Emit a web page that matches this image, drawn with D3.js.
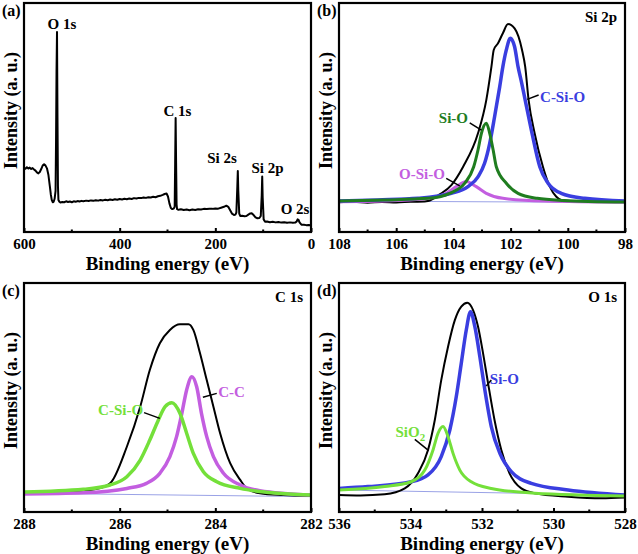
<!DOCTYPE html>
<html><head><meta charset="utf-8">
<script src="https://cdn.jsdelivr.net/npm/d3@7"></script>
<style>
html,body{margin:0;padding:0;background:#fff;}
text{font-family:"Liberation Serif","Times New Roman",serif;font-weight:bold;}
</style></head>
<body>
<svg id="chart" width="638" height="554"></svg>
<script>
// ---------------- DATA ----------------
// (a) survey spectrum [binding energy eV, intensity a.u.]
const surveyData = [
[600,28.0],[597,27.6],[594,28.3],[591,27.7],[588,28.1],[585,27.5],[582,27.9],[579,27.3],[576,26.8],[573,26.0],[570,25.6],[567,26.2],[564,27.5],[561,29.0],[558,29.6],[555,29.0],[552,27.8],[549,25.0],[546,20.0],[544,16.5],[542,14.0],[540,13.0],[538,13.2],[536,14.5],[534,18],[533,40],[532,70],[531,87.3],[530,50],[529,20],[528,14],[526,13.2],[524,12.9],[520,13.1],[516,13.0],[512,13.4],[508,13.1],[504,13.3],[500,13.0],[496,13.4],[492,13.2],[488,13.5],[484,13.3],[480,13.6],[476,13.4],[470,13.7],[465,13.5],[460,13.8],[455,13.6],[450,13.9],[445,13.7],[440,14.0],[435,13.8],[430,14.1],[425,13.9],[420,14.2],[415,14.0],[410,14.3],[405,14.1],[400,14.4],[395,14.2],[390,14.5],[385,14.3],[380,14.6],[375,14.4],[370,14.8],[365,14.6],[360,14.9],[355,14.8],[350,15.1],[345,14.9],[340,15.2],[335,15.1],[330,15.4],[325,15.2],[320,15.6],[315,15.8],[310,16.2],[306,16.6],[302,16.8],[299,15.5],[296,12.5],[293,10.5],[290,10.0],[287,10.2],[285,11],[284,30],[283,49.8],[282,30],[281,12],[280,10],[277,9.7],[272,9.9],[266,9.6],[260,9.8],[254,9.5],[248,9.8],[242,9.6],[236,9.9],[230,9.8],[224,10.1],[218,10.0],[212,10.2],[206,10.1],[200,10.3],[194,10.2],[188,10.6],[182,11.0],[177,11.5],[173,11.0],[169,9.5],[165,8.0],[161,7.4],[158,7.6],[156,8.5],[154,20],[153,26.6],[152,18],[150,8],[148,7.0],[144,7.1],[139,6.9],[135,7.0],[131,7.6],[127,8.1],[124,8.2],[120,7.4],[116,6.4],[112,6.0],[108,6.1],[105,7],[103,16],[102,24.2],[101,15],[99,5.5],[96,4.5],[92,4.6],[86,4.3],[80,4.5],[74,4.2],[68,4.4],[62,4.1],[56,4.3],[50,4.0],[44,4.2],[38,4.0],[33,4.1],[30,4.6],[28,5.5],[26,5.3],[24,4.2],[20,3.2],[15,3.2],[10,3.0],[5,3.1],[0,3.0]
];
// (b) Si 2p
const si2pEnvelope = [[108,13.0],[107.5,13.2],[107,12.8],[106.5,13.1],[106,12.9],[105.5,13.2],[105,13.3],[104.89,13.5],[104.48,16.4],[104.07,20.5],[103.66,28.5],[103.14,43.1],[102.85,57.6],[102.67,72.2],[102.59,79.5],[102.44,82.4],[102.27,86.8],[102.09,90.8],[101.86,88.9],[101.6,79.5],[101.49,72.2],[101.37,57.6],[101.16,43.1],[100.87,28.5],[100.63,19.8],[100.4,15.4],[100.23,14],[99.5,13.3],[98.8,13.2],[98,13.1]];
const si2pCSiO = [[108,13.5],[106.64,14],[105.24,14.7],[104.07,16.9],[103.49,19.8],[103.14,24.1],[102.91,30],[102.73,38.7],[102.56,50.3],[102.38,63.5],[102.27,72.2],[102.15,79.5],[102.01,84.6],[101.86,80.9],[101.74,72.2],[101.61,64.9],[101.49,57.6],[101.25,43.1],[100.98,28.5],[100.69,21.3],[100.23,16.9],[99.41,14.7],[98,13.5]];
const si2pSiO = [[108,13.5],[106.4,14],[104.89,14.7],[104.13,16.9],[103.6,21.3],[103.29,28.5],[103.14,35.8],[103.02,43.1],[102.85,47.5],[102.73,43.1],[102.61,35.8],[102.5,28.5],[102.15,21.3],[101.74,16.9],[101.07,14.7],[100.2,13.8],[98,13.1]];
const si2pOSiO = [[108,13.2],[106.4,13.5],[104.89,14.7],[104.25,16.9],[103.9,19.8],[103.55,22],[103.2,19.8],[102.85,16.9],[102.27,14.7],[100.81,13.5],[98,13.0]];
const si2pBaseline = [[108,13.5],[98,12.9]];
// (c) C 1s
const c1sEnvelope = [[288,7.9],[287.5,8.1],[287,8.6],[286.5,10],[286.2,12.5],[285.85,28.5],[285.57,46],[285.37,62],[285.16,73.7],[284.95,79.5],[284.74,82],[284.56,82],[284.46,79.5],[284.32,69.3],[284.18,57.6],[284.04,46],[283.9,34.4],[283.69,21.3],[283.48,14],[283.34,10.3],[283.07,8.2],[282.58,7.4],[282,7]];
const c1sCC = [[288,7.9],[286.76,8.4],[285.85,10.3],[285.44,12.5],[285.16,16.9],[284.95,24.2],[284.81,32.9],[284.7,43.1],[284.6,53.3],[284.49,59.1],[284.39,54.7],[284.29,43.1],[284.18,32.9],[284.04,24.2],[283.83,16.9],[283.48,11.8],[283.07,9.3],[282,7.4]];
const c1sCSiO = [[288,8.7],[286.76,9.9],[286.2,11.8],[285.85,15.4],[285.57,22.7],[285.37,31.4],[285.19,40.2],[285.05,46],[284.91,47.7],[284.74,43.1],[284.6,34.4],[284.46,25.6],[284.25,17.6],[283.97,13.2],[283.48,10.3],[282.93,8.6],[282,7.4]];
const c1sBaseline = [[288,8.2],[282,6.7]];
// (d) O 1s
const o1sEnvelope = [[536,7.4],[535.4,7.2],[534.72,7.7],[534.16,10.3],[533.79,16.9],[533.51,27.1],[533.32,40.2],[533.14,57.6],[532.95,72.2],[532.76,83.8],[532.58,89.7],[532.41,91.4],[532.25,88.2],[532.11,80.9],[531.97,69.3],[531.83,56.2],[531.65,40.2],[531.46,27.1],[531.23,16.9],[530.9,10.3],[530.53,8.2],[529.59,6.7],[528.66,6.0],[528,6.3]];
const o1sSiO = [[536,10.3],[535.19,11.1],[533.98,13.2],[533.51,16.2],[533.14,24.2],[532.9,35.8],[532.72,50.3],[532.58,64.9],[532.44,79.5],[532.32,87.5],[532.2,80.9],[532.06,67.8],[531.92,53.3],[531.74,37.3],[531.5,25.6],[531.18,17.6],[530.62,12.5],[529.59,9.6],[528,7.4]];
const o1sSiO2 = [[536,9.6],[534.72,11.1],[533.98,13.2],[533.6,18.3],[533.37,27.1],[533.23,34.4],[533.09,37.3],[532.95,32.9],[532.81,25.6],[532.62,18.3],[532.3,13.2],[531.74,10.3],[530.53,8.2],[528,7.0]];
const o1sBaseline = [[536,9.6],[528,7.4]];

// tick values and labels
const ticksA = [600,400,200,0], minorA = [500,300,100];
const ticksB = [108,106,104,102,100,98], minorB = [107,105,103,101,99];
const ticksC = [288,286,284,282], minorC = [287,285,283];
const ticksD = [536,534,532,530,528], minorD = [535,533,531,529];

// peak labels [text, eV, intensity]
const surveyLabels = [["O 1s",520.6,88.6],["C 1s",279.1,50.7],["Si 2s",186,30.1],["Si 2p",90.9,25.8],["O 2s",33.4,7.9]];

// ---------------- DRAW ----------------
const svg = d3.select("#chart");
const font = '"Liberation Serif","Times New Roman",serif';
const C = {black:"#000", blue:"#3a3ee0", purple:"#c35ee0", dgreen:"#1f7d1f", lime:"#74e03a", base:"#9aa2e6"};

function panel(o){
  const g = svg.append("g");
  const x = d3.scaleLinear().domain(o.xdom).range([o.x0,o.x1]);
  const y = d3.scaleLinear().domain([0,100]).range([o.y1,o.y0]);
  const clipId = "clip"+o.id;
  svg.append("clipPath").attr("id",clipId).append("rect")
     .attr("x",o.x0).attr("y",o.y0).attr("width",o.x1-o.x0).attr("height",o.y1-o.y0);
  const line = d3.line().x(d=>x(d[0])).y(d=>y(d[1])).curve(o.curve||d3.curveMonotoneX);
  const plot = g.append("g").attr("clip-path",`url(#${clipId})`);
  o.series.forEach(s=>{
    plot.append("path").datum(s.data).attr("d",line)
      .attr("fill","none").attr("stroke",s.color).attr("stroke-width",s.w)
      .attr("stroke-linejoin","round").attr("stroke-linecap","round");
  });
  // axis
  const ax = g.append("g").attr("transform",`translate(0,${o.y1})`)
    .call(d3.axisBottom(x).tickValues(o.ticks).tickSize(-4).tickPadding(6.5).tickFormat(d3.format("d")));
  ax.select(".domain").remove();
  ax.selectAll(".tick line").attr("stroke","#000").attr("stroke-width",2);
  ax.selectAll(".tick text").attr("font-size",15).attr("font-family",font).attr("font-weight","bold").attr("fill","#000");
  g.selectAll(".minor").data(o.minor).enter().append("line")
    .attr("x1",d=>x(d)).attr("x2",d=>x(d)).attr("y1",o.y1).attr("y2",o.y1-2.5)
    .attr("stroke","#000").attr("stroke-width",2);
  // frame
  g.append("rect").attr("x",o.x0).attr("y",o.y0).attr("width",o.x1-o.x0).attr("height",o.y1-o.y0)
    .attr("fill","none").attr("stroke","#000").attr("stroke-width",2.2);
  // titles
  g.append("text").attr("x",(o.x0+o.x1)/2).attr("y",o.y1+38).attr("text-anchor","middle")
    .attr("font-size",19).text("Binding energy (eV)");
  g.append("text").attr("transform",`translate(${o.x0-7.5},${(o.y0+o.y1)/2-7}) rotate(-90)`)
    .attr("text-anchor","middle").attr("font-size",18).text("Intensity (a. u.)");
  g.append("text").attr("x",o.x0-22).attr("y",o.y0+13).attr("font-size",16).text(o.tag);
  if(o.name) g.append("text").attr("x",o.x1-8).attr("y",o.y0+19).attr("text-anchor","end").attr("font-size",15).text(o.name);
  (o.labels||[]).forEach(l=>{
    const t = g.append("text").attr("x",x(l.x)).attr("y",y(l.y)).attr("text-anchor",l.anchor||"start")
      .attr("font-size",15).attr("fill",l.color||"#000");
    if(l.sub){ t.append("tspan").text(l.text); t.append("tspan").attr("font-size",11).attr("dy",4).text(l.sub); }
    else t.text(l.text);
    if(l.p) g.append("line").attr("x1",x(l.p[0])).attr("y1",y(l.p[1])).attr("x2",x(l.p[2])).attr("y2",y(l.p[3]))
      .attr("stroke","#000").attr("stroke-width",1.5);
  });
}

panel({id:"a",tag:"(a)",x0:24,x1:311,y0:3,y1:232,xdom:[600,0],ticks:ticksA,minor:minorA,curve:d3.curveLinear,
  series:[{data:surveyData,color:C.black,w:2}],
  labels:surveyLabels.map(l=>({text:l[0],x:l[1],y:l[2],anchor:"middle"}))});

panel({id:"b",tag:"(b)",name:"Si 2p",x0:339,x1:625,y0:3,y1:232,xdom:[108,98],ticks:ticksB,minor:minorB,
  series:[{data:si2pBaseline,color:C.base,w:1},{data:si2pEnvelope,color:C.black,w:2},{data:si2pOSiO,color:C.purple,w:3},
          {data:si2pCSiO,color:C.blue,w:3.5},{data:si2pSiO,color:C.dgreen,w:3}],
  labels:[{text:"C-Si-O",x:100.97,y:56.8,color:C.blue,p:[101.42,57.9,101.02,59.8]},
          {text:"Si-O",x:103.49,y:47.6,anchor:"end",color:C.dgreen,p:[103.43,47.7,103.02,44.5]},
          {text:"O-Si-O",x:104.3,y:23.1,anchor:"end",color:C.purple,p:[104.25,23.4,103.78,20.1]}]});

panel({id:"c",tag:"(c)",name:"C 1s",x0:24,x1:311,y0:283,y1:512,xdom:[288,282],ticks:ticksC,minor:minorC,
  series:[{data:c1sBaseline,color:C.base,w:1},{data:c1sEnvelope,color:C.black,w:2},{data:c1sCC,color:C.purple,w:3.5},
          {data:c1sCSiO,color:C.lime,w:3.5}],
  labels:[{text:"C-C",x:283.94,y:50.3,color:C.purple,p:[284.26,50.1,283.97,51.8]},
          {text:"C-Si-O",x:285.51,y:42.4,anchor:"end",color:C.lime,p:[285.49,43.4,285.16,40.9]}]});

panel({id:"d",tag:"(d)",name:"O 1s",x0:339,x1:625,y0:283,y1:512,xdom:[536,528],ticks:ticksD,minor:minorD,
  series:[{data:o1sBaseline,color:C.base,w:1},{data:o1sEnvelope,color:C.black,w:2},{data:o1sSiO,color:C.blue,w:3.5},
          {data:o1sSiO2,color:C.lime,w:3}],
  labels:[{text:"Si-O",x:531.78,y:55.9,color:C.blue,p:[531.88,55,531.74,57.6]},
          {text:"SiO",sub:"2",x:533.59,y:32.8,anchor:"end",color:C.lime,p:[533.88,31.7,533.49,26.8]}]});
</script>
</body></html>
